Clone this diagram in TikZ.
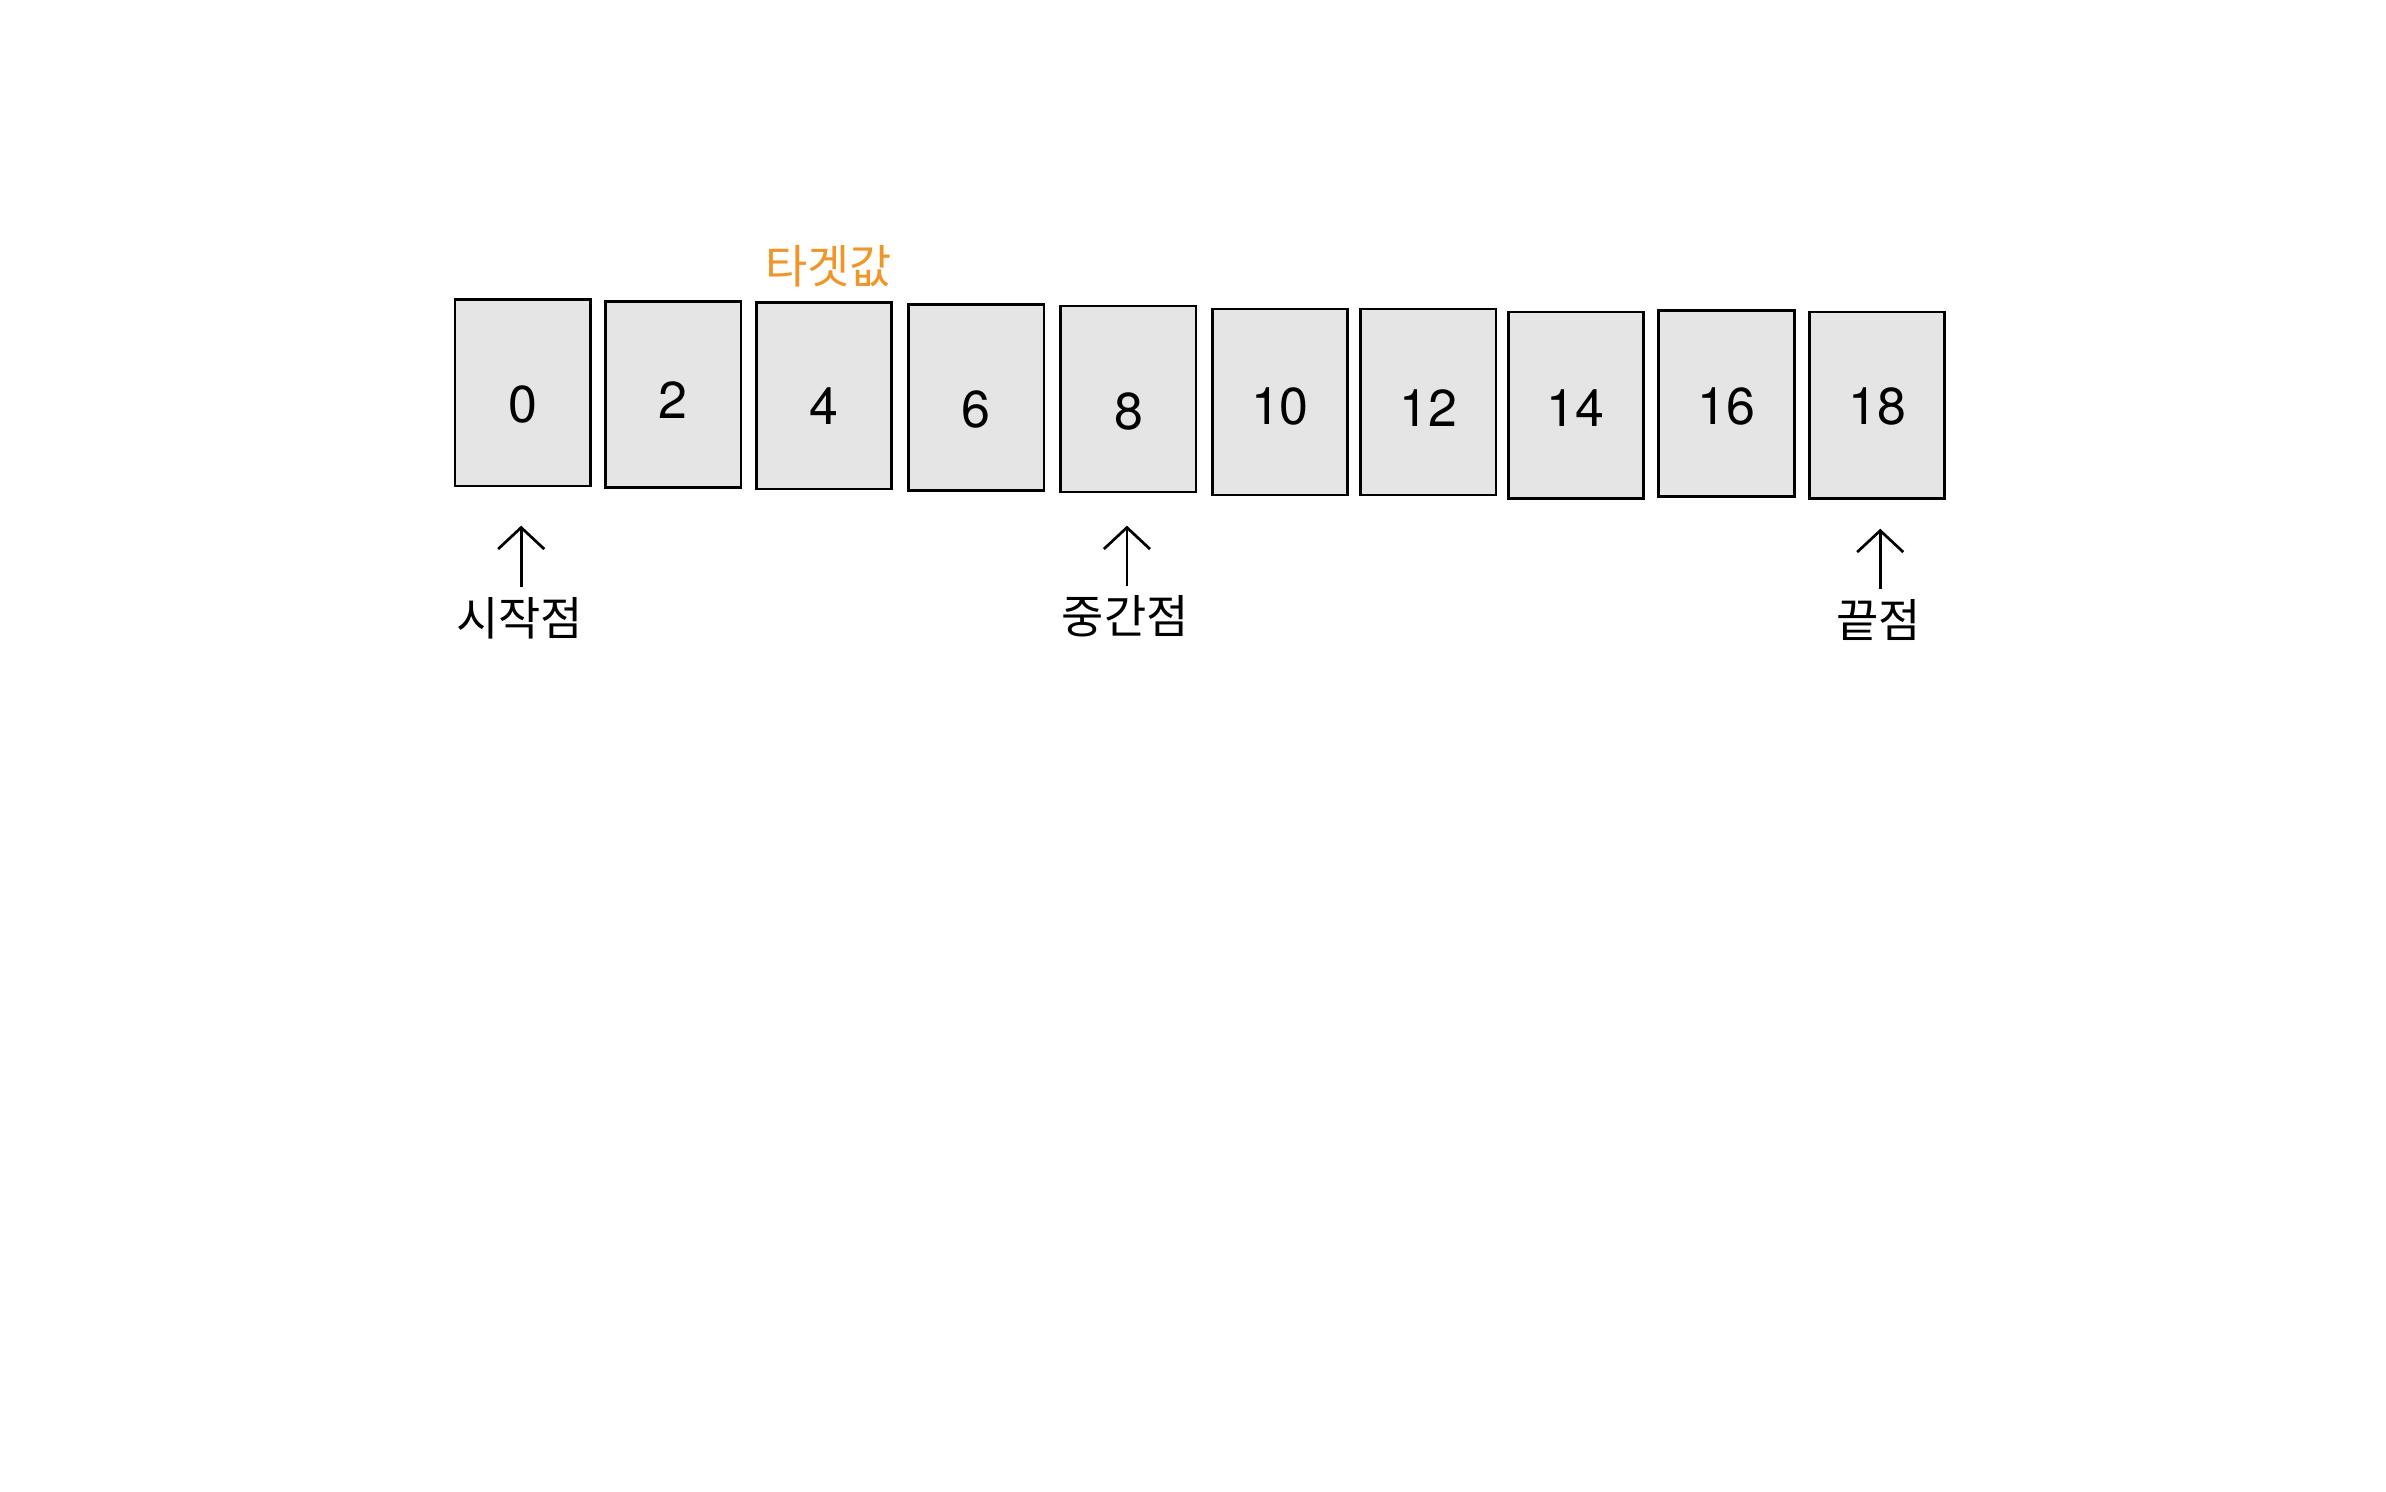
\documentclass[tikz,border=0pt]{standalone}
\usepackage{fontspec}
\setmainfont{TeX Gyre Heros}
\newfontfamily\krfont{Noto Sans CJK KR}
\usepackage{tikz}
\usetikzlibrary{arrows.meta,positioning,calc}
\definecolor{targetorange}{RGB}{240,150,40}
\tikzset{
  search schemes/.style = {
    line width    = 0.5pt,
    % cell of the array
    cell/.style  = {
      minimum height=1.21cm,
      minimum width=0.88cm,
      draw, fill=gray!20,
      inner sep=0pt, text depth=0pt,
      font=\fontsize{9.6}{12}\selectfont
    },
    % labels under the arrows
    ptr label/.style = {inner sep=0pt, font=\krfont\fontsize{8.5}{10}\selectfont},
    ptr line/.style  = {line width=0.5pt, -{Straight Barb[length=1.4mm,width=3mm]}},
  },
}
\begin{document}
\begin{tikzpicture}[search schemes, x=0.01cm, y=-0.01cm]
  \useasboundingbox (0,0) rectangle (1552,970);

  % sorted array (value / x / y / drop of the digits)
  \foreach \v/\x/\y/\o [evaluate=\o as \h using 6.9+0.569*\o]
      in {0/340/255.5/7.5, 2/438/256.5/3.5, 4/536/257.5/6.5,
      6/635/258.5/7.5, 8/734/259.5/7.5, 10/832.5/261.5/2.5, 12/929/261.5/3.5,
      14/1025/263.5/1.5, 16/1123/262.5/1.5, 18/1221/263.5/0.5}
    \node [cell, text height=\h pt] (c-\v) at (\x,\y) {\v};

  \node [ptr label, text=targetorange] (target) at (539,173) {타겟값};

  \node [ptr label] (start) at (338,402) {시작점};
  \node [ptr label] (mid)   at (732,401) {중간점};
  \node [ptr label] (end)   at (1222,403) {끝점};

  % pointers
  \foreach \p/\c/\gap in {start/0/0.25cm, mid/8/0.21cm, end/18/0.19cm} {
    \coordinate (\p-tail) at ($(\p.center)+(1,-20)$);
    \draw[ptr line, shorten >=\gap] (\p-tail) -- (\p-tail |- c-\c.south);
  }
\end{tikzpicture}
\end{document}
